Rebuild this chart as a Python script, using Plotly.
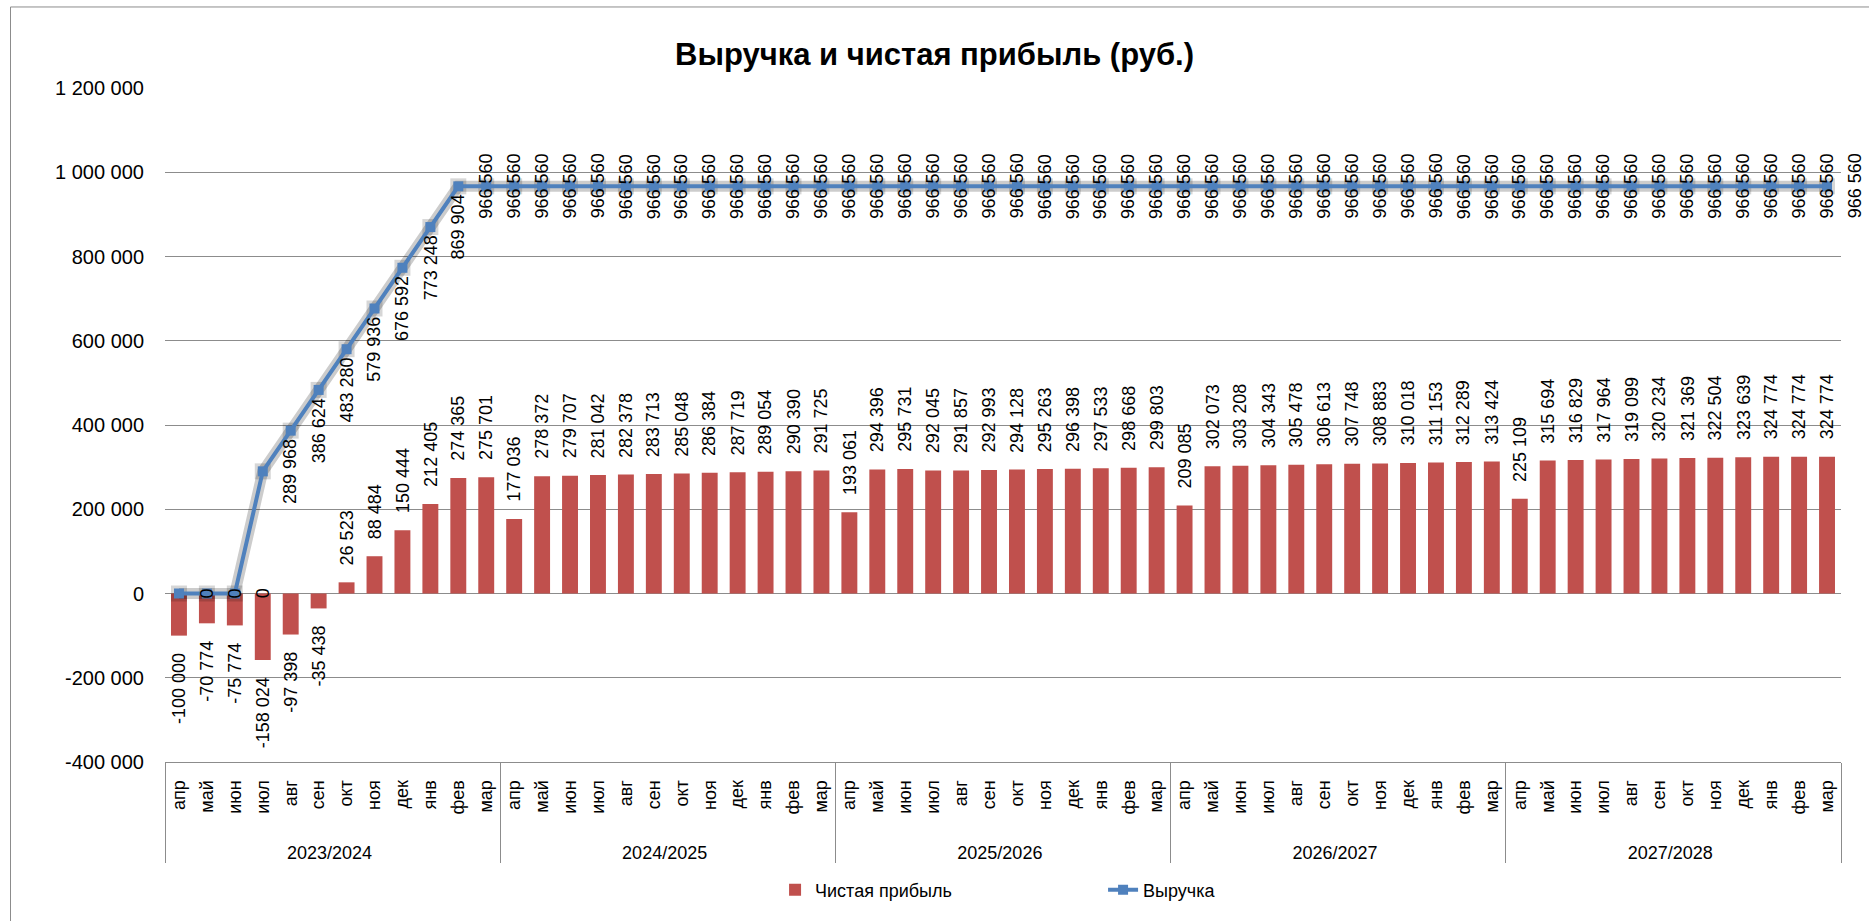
import plotly.graph_objects as go

years = ["2023/2024", "2024/2025", "2025/2026", "2026/2027", "2027/2028"]
months = ["апр", "май", "июн", "июл", "авг", "сен", "окт", "ноя", "дек", "янв", "фев", "мар"]

profit = [
    -100000, -70774, -75774, -158024, -97398, -35438, 26523, 88484, 150444, 212405, 274365, 275701,
    177036, 278372, 279707, 281042, 282378, 283713, 285048, 286384, 287719, 289054, 290390, 291725,
    193061, 294396, 295731, 292045, 291857, 292993, 294128, 295263, 296398, 297533, 298668, 299803,
    209085, 302073, 303208, 304343, 305478, 306613, 307748, 308883, 310018, 311153, 312289, 313424,
    225109, 315694, 316829, 317964, 319099, 320234, 321369, 322504, 323639, 324774, 324774, 324774,
]

revenue = [
    0, 0, 0, 289968, 386624, 483280, 579936, 676592, 773248, 869904, 966560, 966560,
    966560, 966560, 966560, 966560, 966560, 966560, 966560, 966560, 966560, 966560, 966560, 966560,
    966560, 966560, 966560, 966560, 966560, 966560, 966560, 966560, 966560, 966560, 966560, 966560,
    966560, 966560, 966560, 966560, 966560, 966560, 966560, 966560, 966560, 966560, 966560, 966560,
    966560, 966560, 966560, 966560, 966560, 966560, 966560, 966560, 966560, 966560, 966560, 966560,
]

y_tick_vals = [-400000, -200000, 0, 200000, 400000, 600000, 800000, 1000000, 1200000]
y_tick_text = ["-400 000", "-200 000", "0", "200 000", "400 000", "600 000", "800 000", "1 000 000", "1 200 000"]

title_text = "Выручка и чистая прибыль (руб.)"
profit_name = "Чистая прибыль"
revenue_name = "Выручка"

BAR_COLOR = "#C0504D"
LINE_COLOR = "#4F81BD"
GRID = "#8C8C8C"
FONT = "Arial, Liberation Sans, sans-serif"


def fmt(v):
    s = f"{abs(v):,}".replace(",", " ")
    return ("-" if v < 0 else "") + s


x_year = [y for y in years for _ in months]
x_month = [m for _ in years for m in months]
xcat = [x_year, x_month]
n_cat = len(x_month)

fig = go.Figure()

fig.add_trace(go.Bar(
    x=xcat, y=profit, name=profit_name,
    marker=dict(color=BAR_COLOR, line=dict(width=0)),
))

# soft shadow beneath the revenue line
fig.add_trace(go.Scatter(
    x=xcat, y=revenue, mode="lines+markers", showlegend=False, hoverinfo="skip",
    line=dict(color="rgba(0,0,0,0.2)", width=11),
    marker=dict(symbol="square", size=16, color="rgba(0,0,0,0.16)"),
))

fig.add_trace(go.Scatter(
    x=xcat, y=revenue, mode="lines+markers", name=revenue_name,
    line=dict(color=LINE_COLOR, width=4),
    marker=dict(symbol="square", size=10, color=LINE_COLOR),
))

annotations = []
for i, v in enumerate(profit):
    annotations.append(dict(
        x=i, y=v, xref="x", yref="y", text=fmt(v), showarrow=False,
        textangle=-90, xanchor="center",
        yanchor="bottom" if v >= 0 else "top",
        yshift=15 if v >= 0 else -15,
        font=dict(family=FONT, size=18, color="#000"),
    ))
for i, v in enumerate(revenue):
    annotations.append(dict(
        x=i, y=v, xref="x", yref="y", text=fmt(v), showarrow=False,
        textangle=-90, xanchor="center", yanchor="middle", xshift=28,
        font=dict(family=FONT, size=18, color="#000"),
    ))

fig.update_layout(
    width=1869, height=921,
    margin=dict(l=165, r=28, t=88, b=155),
    paper_bgcolor="white", plot_bgcolor="white",
    font=dict(family=FONT, size=18, color="#000"),
    title=dict(text="<b>" + title_text + "</b>", x=0.5, xref="container", xanchor="center",
               y=1 - 54 / 921, yref="container", yanchor="middle",
               font=dict(family=FONT, size=31, color="#000")),
    bargap=0.43,
    showlegend=True,
    legend=dict(orientation="h", x=0.364, xanchor="left", y=-0.19, yanchor="middle",
                font=dict(family=FONT, size=18), entrywidth=283, entrywidthmode="pixels",
                bgcolor="rgba(0,0,0,0)"),
    annotations=annotations,
    shapes=[dict(type="rect", xref="paper", yref="paper",
                 x0=(10.5 - 165) / 1676, x1=(1880 - 165) / 1676,
                 y0=-0.5, y1=(766 - 6.5) / 678,
                 line=dict(color="#8C8C8C", width=1), fillcolor="rgba(0,0,0,0)", layer="below")],
)

fig.update_xaxes(
    type="multicategory", range=[-0.5, n_cat - 0.5], autorange=False,
    tickangle=-90, showline=True, linecolor=GRID, linewidth=1,
    showdividers=True, dividercolor=GRID, dividerwidth=1, ticks="",
    tickprefix="\u00a0\u00a0", ticksuffix="\u00a0\u00a0",
    tickfont=dict(family=FONT, size=18, color="#000"), showgrid=False,
)
fig.update_yaxes(
    range=[-400000, 1200000], autorange=False, tickvals=y_tick_vals, ticktext=y_tick_text,
    showgrid=True, gridcolor=GRID, gridwidth=1, zeroline=True, zerolinecolor=GRID, zerolinewidth=1,
    showline=False, ticks="outside", ticklen=16, tickcolor="rgba(0,0,0,0)",
    tickfont=dict(family=FONT, size=20, color="#000"),
)

fig.write_html("out.html", config={"displayModeBar": False},
               post_script="document.body.style.margin='0';document.body.style.overflow='hidden';")
